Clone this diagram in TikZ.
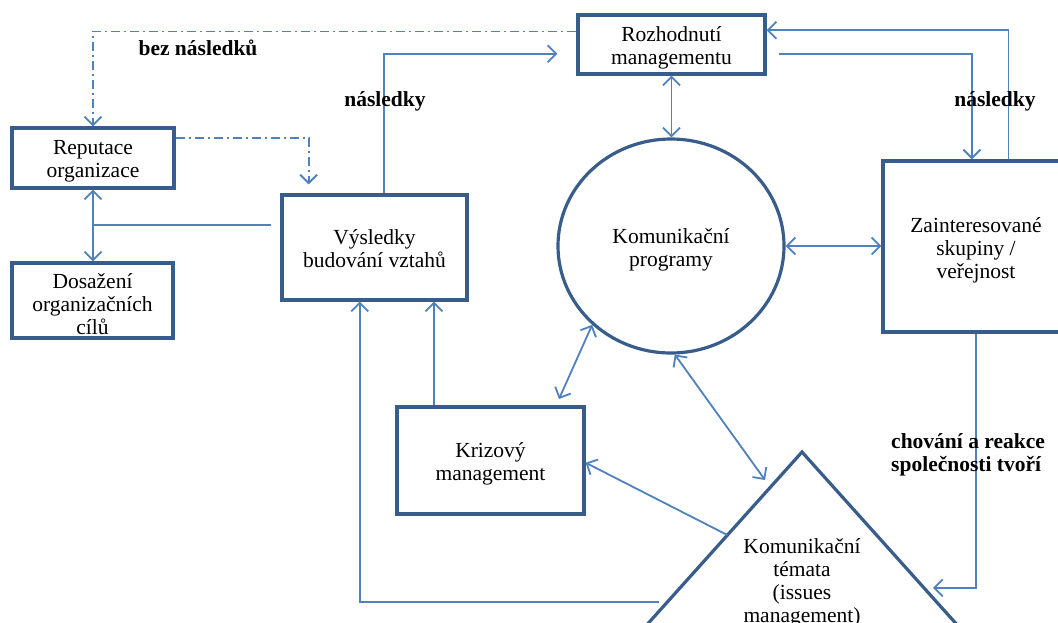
\documentclass[tikz,border=0pt]{standalone}
\usepackage{fontspec}
\setmainfont{Liberation Serif}
\usetikzlibrary{arrows.meta,shapes.geometric,calc}
\definecolor{boxblue}{RGB}{56,93,138}
\definecolor{linkblue}{RGB}{79,129,189}
\tikzset{
  box/.style={draw=boxblue, line width=3.2pt, fill=white, inner sep=0pt},
  txt/.style={align=center, inner sep=0pt, font=\fontsize{21.5}{23}\selectfont},
  btext/.style={label={[txt,yshift=-3.5pt]center:#1}},
  lbl/.style={inner sep=0pt, font=\bfseries\fontsize{21.5}{23}\selectfont},
  link/.style={draw=linkblue, line width=1.8pt},
  dashdot/.style={draw=linkblue, line width=1.8pt,
    dash pattern=on 9pt off 4pt on 2pt off 4pt},
  >={Straight Barb[length=8.5pt,width=17pt]}
}
\begin{document}
\begin{tikzpicture}[x=1pt,y=-1pt]
\useasboundingbox (0,0) rectangle (1058,622);
\fill[white] (0,0) rectangle (1058,622);
\clip (0,0) rectangle (1058,622);

% boxes and the circle
\node[box, minimum width=187pt, minimum height=59pt,
  btext={Rozhodnutí\\managementu}] (rm) at (671.5,44.5) {};
\node[box, minimum width=162pt, minimum height=60pt,
  btext={Reputace\\organizace}] (rep) at (93,158) {};
\node[box, minimum width=161pt, minimum height=75pt,
  btext={Dosažení\\organizačních\\cílů}] (dos) at (92.5,300.5) {};
\node[box, minimum width=185pt, minimum height=105pt,
  label={[txt,yshift=-1pt]center:Výsledky\\budování vztahů}] (vys) at (374.5,247.5) {};
\node[box, ellipse, minimum width=226pt, minimum height=214pt,
  btext={Komunikační\\programy}] (kp) at (671,246) {};
\node[box, minimum width=192pt, minimum height=171pt,
  label={[txt,yshift=-3.5pt,xshift=-3pt]center:Zainteresované\\skupiny /\\veřejnost}] (zs) at (979,246.5) {};
\node[box, minimum width=187pt, minimum height=107pt,
  btext={Krizový\\management}] (km) at (490.5,460.5) {};

% triangle of issues
\coordinate (tA) at (802,452);
\coordinate (tL) at (574,706);
\coordinate (tR) at (1030,706);
\draw[draw=boxblue, line width=3.2pt, fill=white, line join=miter] (tA) -- (tR) -- (tL) -- cycle;
\node[txt] (tt) at (802,582.5) {Komunikační\\témata\\(issues\\management)};

% attachment points
\coordinate (rmW1) at ($(rm.north west)!0.29!(rm.south west)$);
\coordinate (rmW2) at ($(rm.north west)!0.65!(rm.south west)$);
\coordinate (rmE1) at ($(rm.north east)!0.27!(rm.south east)$);
\coordinate (rmE2) at ($(rm.north east)!0.65!(rm.south east)$);
\coordinate (repE) at ($(rep.north east)!0.18!(rep.south east)$);
\coordinate (vysN1) at ($(vys.north west)!0.15!(vys.north east)$);
\coordinate (vysN2) at ($(vys.north west)!0.55!(vys.north east)$);
\coordinate (vysW) at ($(vys.north west)!0.295!(vys.south west)$);
\coordinate (vysS1) at ($(vys.south west)!0.4216!(vys.south east)$);
\coordinate (zsN1) at ($(zs.north west)!0.4635!(zs.north east)$);
\coordinate (zsN2) at ($(zs.north west)!0.651!(zs.north east)$);
\coordinate (zsS) at ($(zs.south west)!0.484!(zs.south east)$);
\coordinate (kmN) at ($(km.north west)!0.203!(km.north east)$);
\coordinate (kmT) at ($(km.north west)!0.845!(km.north east)$);
\coordinate (kmE) at ($(km.north east)!0.52!(km.south east)$);
\coordinate (tL1) at ($(tA)!0.139!(tL)$);
\coordinate (tL2) at ($(tA)!0.327!(tL)$);
\coordinate (tL3) at ($(tA)!0.5906!(tL)$);
\coordinate (tR1) at ($(tA)!0.535!(tR)$);

% connectors
\draw[dashdot,->] (rmW1) -| (rep.north);
\draw[dashdot,->,shorten >=9pt] (repE) -| (vysN1);
\draw[link,->,shorten >=19pt] (vysN2) |- (rmW2);
\draw[link,<->] (rm.south) -- (rm.south |- kp.north);
\draw[link,->,shorten <=12pt] (rmE2) -| (zsN1);
\draw[link,->] (zsN2) |- (rmE1);
\draw[link,<->] (kp.east) -- (kp.east -| zs.west);
\draw[link,<->] (rep.south) -- (rep.south |- dos.north);
\draw[link,shorten <=9pt] (vysW) -- (vysW -| rep.south);
\draw[link,->,shorten <=8pt] (tL3) -| (vysS1);
\draw[link,->] (kmN) -- (kmN |- vys.south);
\draw[link,<->,shorten >=7pt] (kp.225) -- (kmT);
\draw[link,->] (tL2) -- (kmE);
\draw[link,<->,shorten >=9pt] (kp.272) -- (tL1);
\draw[link,->,shorten >=9pt] (zsS) |- (tR1);

% connector labels
\node[lbl] (l1) at (198,47.5) {bez následků};
\node[lbl] (l2) at (385,101.5) {následky};
\node[lbl] (l3) at (995,101.5) {následky};
\node[lbl, anchor=west, align=left] (l4) at (891,455) {chování a reakce\\společnosti tvoří};
\end{tikzpicture}
\end{document}
